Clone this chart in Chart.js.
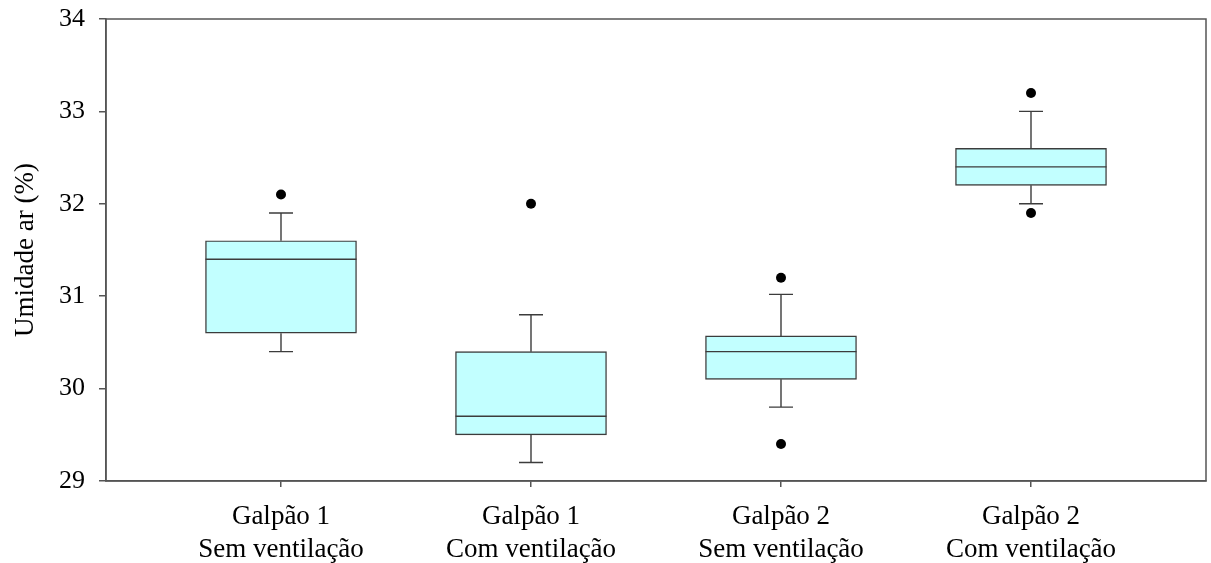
<!DOCTYPE html>
<html>
<head>
<meta charset="utf-8">
<script src="https://cdn.jsdelivr.net/npm/chart.js@4.4.1/dist/chart.umd.min.js"></script>
<style>
  html, body { margin: 0; padding: 0; background: #fff; }
  #wrap { width: 1211px; height: 563px; }
</style>
</head>
<body>
<div id="wrap"><canvas id="boxChart" width="1211" height="563"></canvas></div>
<script>
// categorias e valores
var categorias = [
    ['Galpão 1', 'Sem ventilação'],
    ['Galpão 1', 'Com ventilação'],
    ['Galpão 2', 'Sem ventilação'],
    ['Galpão 2', 'Com ventilação']
];
var posicoes = [1, 2, 3, 4];
var q1 = [30.6, 29.5, 30.1, 32.2];
var q3 = [31.6, 30.4, 30.57, 32.6];
var mediana = [31.4, 29.7, 30.4, 32.4];
var bigodeMin = [30.4, 29.2, 29.8, 32.0];
var bigodeMax = [31.9, 30.8, 31.02, 33.0];
var outliers = [[32.1], [32.0], [31.2, 29.4], [33.2, 31.9]];
var yTicks = [29, 30, 31, 32, 33, 34];

var corLinha = '#3c3c3c';
var fonte = 'Liberation Serif, Times New Roman, serif';

var caixas = posicoes.map(function (p, i) { return { x: p, y: [q1[i], q3[i]] }; });
var pontos = [];
posicoes.forEach(function (p, i) {
    outliers[i].forEach(function (v) { pontos.push({ x: p, y: v }); });
});

// desenha bigodes, medianas e moldura
var boxPlugin = {
    id: 'boxExtras',
    afterDatasetsDraw: function (chart) {
        var ctx = chart.ctx;
        var xs = chart.scales.x, ys = chart.scales.y;
        var meta = chart.getDatasetMeta(0);
        ctx.save();
        ctx.strokeStyle = corLinha;
        ctx.lineWidth = 1.4;
        posicoes.forEach(function (p, i) {
            var cx = xs.getPixelForValue(p);
            var half = meta.data[i].width / 2;
            var cap = 12;
            ctx.beginPath();
            // bigode superior
            ctx.moveTo(cx, ys.getPixelForValue(q3[i]));
            ctx.lineTo(cx, ys.getPixelForValue(bigodeMax[i]));
            ctx.moveTo(cx - cap, ys.getPixelForValue(bigodeMax[i]));
            ctx.lineTo(cx + cap, ys.getPixelForValue(bigodeMax[i]));
            // bigode inferior
            ctx.moveTo(cx, ys.getPixelForValue(q1[i]));
            ctx.lineTo(cx, ys.getPixelForValue(bigodeMin[i]));
            ctx.moveTo(cx - cap, ys.getPixelForValue(bigodeMin[i]));
            ctx.lineTo(cx + cap, ys.getPixelForValue(bigodeMin[i]));
            // mediana
            ctx.moveTo(cx - half, ys.getPixelForValue(mediana[i]));
            ctx.lineTo(cx + half, ys.getPixelForValue(mediana[i]));
            ctx.stroke();
        });
        var a = chart.chartArea;
        ctx.strokeStyle = '#555';
        ctx.lineWidth = 1.5;
        ctx.strokeRect(a.left, a.top, a.right - a.left, a.bottom - a.top);
        ctx.restore();
    }
};

var config = {
    type: 'bar',
    data: {
        datasets: [{
            type: 'bar',
            data: caixas,
            backgroundColor: '#c2ffff',
            borderColor: corLinha,
            borderWidth: 1.4,
            borderSkipped: false,
            barThickness: 151
        }, {
            type: 'scatter',
            data: pontos,
            pointRadius: 5,
            pointBackgroundColor: '#000',
            pointBorderColor: '#000',
            pointBorderWidth: 0
        }]
    },
    options: {
        responsive: false,
        animation: false,
        layout: { padding: { left: 0, top: 19, right: 4, bottom: 0 } },
        plugins: {
            legend: { display: false },
            tooltip: { enabled: false }
        },
        scales: {
            x: {
                type: 'linear',
                min: 0.3,
                max: 4.7,
                offset: false,
                afterBuildTicks: function (axis) {
                    axis.ticks = posicoes.map(function (v) { return { value: v }; });
                },
                afterFit: function (axis) {
                    axis.height = 82;
                    axis.paddingLeft = 0;
                    axis.paddingRight = 0;
                },
                grid: { offset: false, drawOnChartArea: false, drawTicks: true, tickLength: 6, color: '#555', lineWidth: 1.5 },
                border: { display: true, color: '#555', width: 1.5 },
                ticks: {
                    autoSkip: false,
                    maxRotation: 0,
                    padding: 13,
                    color: '#000',
                    font: { family: fonte, size: 27, lineHeight: 1.22 },
                    callback: function (v) {
                        var i = posicoes.indexOf(v);
                        return i >= 0 ? categorias[i] : '';
                    }
                }
            },
            y: {
                min: 29,
                max: 34,
                afterBuildTicks: function (axis) {
                    axis.ticks = yTicks.map(function (v) { return { value: v }; });
                },
                afterFit: function (axis) {
                    axis.width = 106;
                    axis.paddingTop = 0;
                    axis.paddingBottom = 0;
                },
                grid: { drawOnChartArea: false, drawTicks: true, tickLength: 7, color: '#555', lineWidth: 1.5 },
                border: { display: true, color: '#555', width: 1.5 },
                ticks: {
                    padding: 14,
                    color: '#000',
                    font: { family: fonte, size: 26 }
                },
                title: {
                    display: true,
                    text: 'Umidade ar (%)',
                    color: '#000',
                    font: { family: fonte, size: 27 },
                    padding: { top: 10, bottom: 0 }
                }
            }
        }
    },
    plugins: [boxPlugin]
};

var ctx = document.getElementById('boxChart').getContext('2d');
window.myBox = new Chart(ctx, config);
</script>
</body>
</html>
